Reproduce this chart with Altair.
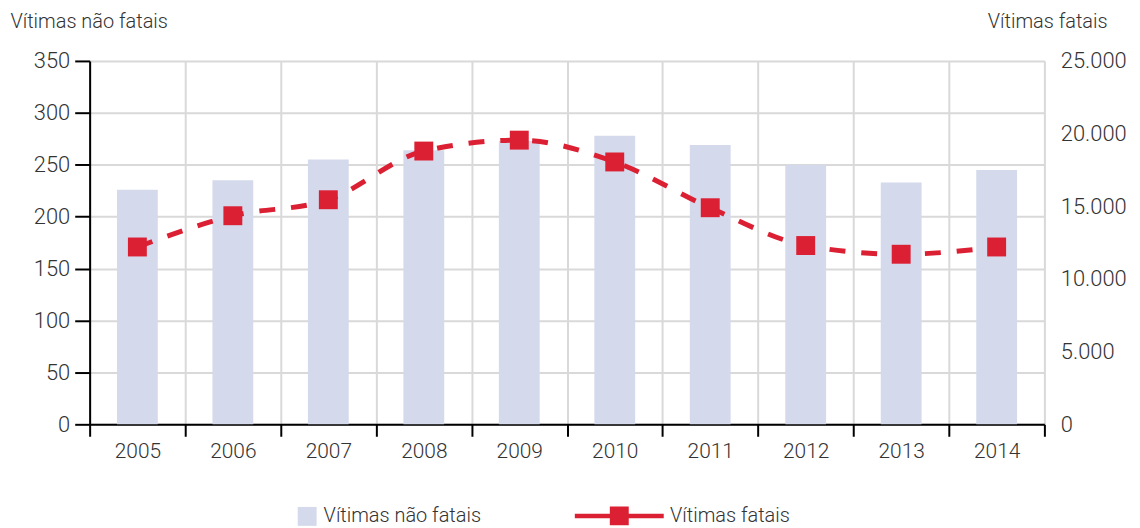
import altair as alt
import pandas as pd

anos = ["2005", "2006", "2007", "2008", "2009", "2010", "2011", "2012", "2013", "2014"]
nao_fatais = [226, 235, 255, 264, 273, 278, 269, 250, 233, 245]
fatais = [12200, 14350, 15450, 18800, 19550, 18050, 14900, 12300, 11700, 12200]

S1 = "Vítimas não fatais"
S2 = "Vítimas fatais"

df = pd.DataFrame({"ano": anos, "nf": nao_fatais, "f": fatais, "s1": S1, "s2": S2})

RED = "#dc2033"
BLUE = "#d4daec"
GRID = "#d9d9d9"
FONT = "Roboto"
TXT = "#333333"
LW = 300

legend_path = "M-4.7,-0.24L4.7,-0.24L4.7,0.24L-4.7,0.24Z M-1,-1L1,-1L1,1L-1,1Z"

x_enc = alt.X(
    "ano:N",
    scale=alt.Scale(paddingInner=0, paddingOuter=0),
    axis=alt.Axis(
        title=None, labelAngle=0, tickBand="extent", grid=True,
        gridColor=GRID, gridWidth=2, domainColor="black", domainWidth=2,
        tickColor="black", tickWidth=2, tickSize=12, labelFontSize=21,
        labelPadding=4, labelColor=TXT, labelFont=FONT, labelFontWeight=LW,
    ),
)

base = alt.Chart(df)

bars = base.mark_bar(size=41).encode(
    x=x_enc,
    y=alt.Y(
        "nf:Q",
        scale=alt.Scale(domain=[0, 350], nice=False),
        axis=alt.Axis(
            values=[0, 50, 100, 150, 200, 250, 300, 350],
            title=S1, titleAngle=0, titleAlign="left", titleBaseline="alphabetic",
            titleX=-80, titleY=-34, titleFontSize=20, titleFontWeight=LW,
            titleColor=TXT, titleFont=FONT,
            domainColor="black", domainWidth=2, tickColor="black", tickWidth=2,
            tickSize=15, labelFontSize=22, labelPadding=5, labelColor=TXT,
            labelFont=FONT, labelFontWeight=LW, grid=True, gridColor=GRID,
            gridWidth=2,
        ),
    ),
    color=alt.Color(
        "s1:N",
        scale=alt.Scale(domain=[S1], range=[BLUE]),
        legend=alt.Legend(
            title=None, orient="none", legendX=208, legendY=447,
            symbolType="square", symbolSize=361, labelFontSize=20,
            labelColor=TXT, labelFont=FONT, labelFontWeight=LW, labelOffset=6,
        ),
    ),
)

y_right = alt.Y(
    "f:Q",
    scale=alt.Scale(domain=[0, 25000], nice=False),
    axis=alt.Axis(
        orient="right", values=[0, 5000, 10000, 15000, 20000, 25000],
        labelExpr="replace(format(datum.value, ','), ',', '.')",
        title=S2, titleAngle=0, titleAlign="right", titleBaseline="alphabetic",
        titleX=63, titleY=-34, titleFontSize=20, titleFontWeight=LW,
        titleColor=TXT, titleFont=FONT,
        domain=False, ticks=False, grid=False, labelPadding=16,
        labelFontSize=22, labelColor=TXT, labelFont=FONT, labelFontWeight=LW,
    ),
)

line = base.mark_line(
    color=RED, strokeWidth=5, strokeDash=[16, 16], interpolate="monotone"
).encode(x=x_enc, y=y_right)

squares = base.mark_point(
    shape="square", filled=True, size=361, color=RED, opacity=1
).encode(x=x_enc, y=y_right)

dummy = base.transform_filter("false").mark_point(
    filled=True, color=RED, opacity=1, size=361
).encode(
    x=x_enc,
    y=y_right,
    shape=alt.Shape(
        "s2:N",
        scale=alt.Scale(domain=[S2], range=[legend_path]),
        legend=alt.Legend(
            title=None, orient="none", legendX=522, legendY=447,
            symbolSize=361, labelFontSize=20, labelColor=TXT, labelFont=FONT,
            labelFontWeight=LW, labelOffset=41, symbolFillColor=RED,
            symbolStrokeWidth=0,
        ),
    ),
)

right = alt.layer(line, squares, dummy)

chart = alt.layer(bars, right).resolve_scale(y="independent").properties(
    width=959, height=365, padding={"left": 2, "top": 2, "right": 5, "bottom": 5}
).configure_view(stroke=None).configure(font=FONT)

chart.save("out.html", embed_options={"renderer": "svg", "actions": False})
